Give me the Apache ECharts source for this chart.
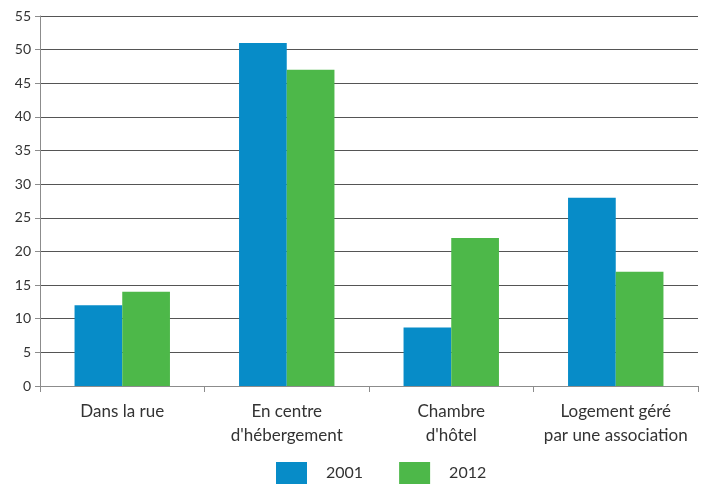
<!DOCTYPE html>
<html><head><meta charset="utf-8">
<script src="https://cdn.jsdelivr.net/npm/echarts@6/dist/echarts.min.js"></script>
<style>html,body{margin:0;padding:0;background:#fff}#c{width:708px;height:486px}</style>
</head><body><div id="c"></div>
<script>
const categories = ["Dans la rue", "En centre\nd'hébergement", "Chambre\nd'hôtel", "Logement géré\npar une association"];
const values2001 = [12, 51, 8.7, 28];
const values2012 = [14, 47, 22, 17];
const seriesNames = ["2001", "2012"];
const yTicks = {min: 0, max: 55, interval: 5};

const font = 'Lato, "Open Sans", sans-serif';
const chart = echarts.init(document.getElementById('c'), null, {renderer: 'canvas'});
chart.setOption({
  animation: false,
  textStyle: {fontFamily: font},
  grid: {left: 40, right: 10, top: 16, bottom: 100, containLabel: false},
  legend: {
    bottom: -3, left: 271, icon: 'rect',
    itemWidth: 31, itemHeight: 22, itemGap: 36,
    textStyle: {fontSize: 16, color: '#333', fontFamily: font, padding: [0, 0, 0, 14]},
    data: seriesNames
  },
  xAxis: {
    type: 'category', data: categories,
    axisLine: {lineStyle: {color: '#8c8c8c', width: 1}},
    axisTick: {show: true, alignWithLabel: false, length: 6, lineStyle: {color: '#8c8c8c'}},
    axisLabel: {fontSize: 17, color: '#333', lineHeight: 24, margin: 14, fontFamily: font, interval: 0}
  },
  yAxis: {
    type: 'value', min: yTicks.min, max: yTicks.max, interval: yTicks.interval,
    axisLine: {show: true, lineStyle: {color: '#8c8c8c'}},
    axisTick: {show: true, length: 5, lineStyle: {color: '#8c8c8c'}},
    axisLabel: {fontSize: 14, color: '#333', margin: 9, fontFamily: font},
    splitLine: {lineStyle: {color: '#555', width: 1}}
  },
  series: [
    {name: seriesNames[0], type: 'bar', data: values2001, barGap: '0%', barCategoryGap: '42%', itemStyle: {color: '#078cc8'}},
    {name: seriesNames[1], type: 'bar', data: values2012, barGap: '0%', barCategoryGap: '42%', itemStyle: {color: '#4db849'}}
  ]
});
</script></body></html>
